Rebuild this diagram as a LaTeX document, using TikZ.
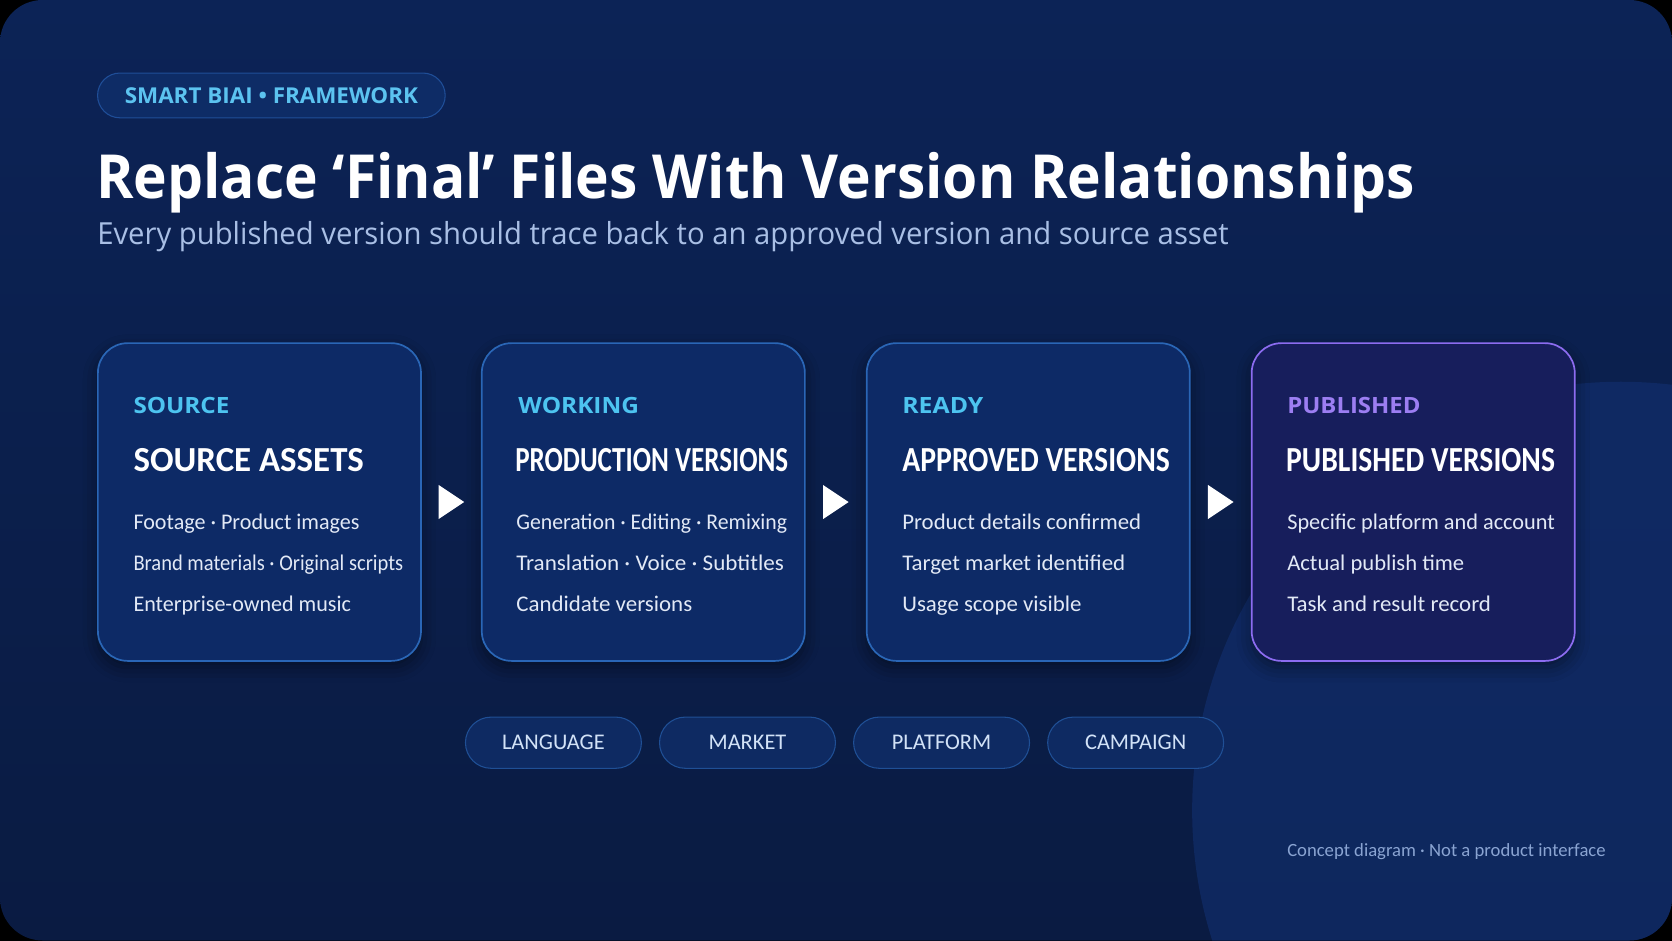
\documentclass[tikz,border=0pt]{standalone}
\usepackage{graphicx}
\usepackage{fontspec}
\setmainfont{Carlito}
\newfontfamily\osans{Open Sans}
\usetikzlibrary{calc,shadows.blur}
\newcommand{\fitto}[2]{\resizebox{#1}{\height}{#2}}
\definecolor{bgtop}{HTML}{0A1B42}
\definecolor{bgbot}{HTML}{0C2356}
\definecolor{circfill}{HTML}{133275}
\definecolor{pillfill}{HTML}{0E2C66}
\definecolor{pillline}{HTML}{1F4E98}
\definecolor{pilltext}{HTML}{5CC3F0}
\definecolor{subtext}{HTML}{A9BFE5}
\definecolor{cardfill}{HTML}{0D2A66}
\definecolor{cardline}{HTML}{2A66B6}
\definecolor{pubfill}{HTML}{171E5C}
\definecolor{publine}{HTML}{8C6CF0}
\definecolor{cattext}{HTML}{4DC4F0}
\definecolor{pubcat}{HTML}{9C7EF2}
\definecolor{bodytext}{HTML}{E2E9F6}
\definecolor{tagfill}{HTML}{0E2A62}
\definecolor{tagline}{HTML}{1F4F95}
\definecolor{tagtext}{HTML}{D2E2F7}
\definecolor{foottext}{HTML}{8AA4D2}
\tikzset{
  card/.style={draw=cardline, line width=1.6pt, fill=cardfill, rounded corners=28pt,
    minimum width=303pt, minimum height=298pt, anchor=north west, inner sep=0pt,
    blur shadow={shadow xshift=0pt, shadow yshift=-6pt, shadow blur radius=14pt, shadow opacity=45}},
  pubcard/.style={card, draw=publine, fill=pubfill},
  cat/.style={anchor=base west, inner sep=0pt, text=cattext, font=\osans\fontsize{21}{25}\selectfont\bfseries},
  head/.style={anchor=base west, inner sep=0pt, text=white, font=\fontsize{33}{38}\selectfont\bfseries},
  body/.style={anchor=base west, inner sep=0pt, text=bodytext, font=\fontsize{21}{26}\selectfont},
  tagbox/.style={draw=tagline, line width=1pt, fill=tagfill, rounded corners=24pt,
    minimum width=165pt, minimum height=48pt, anchor=north west, inner sep=0pt,
    text=tagtext, font=\fontsize{21}{24}\selectfont},
  tri/.style={fill=white}
}
\begin{document}
\begin{tikzpicture}[x=1pt,y=-1pt]
\useasboundingbox (0,0) rectangle (1568,882);
\fill[black] (0,0) rectangle (1568,882);
\begin{scope}
\clip[rounded corners=40pt] (0,0) rectangle (1568,882);
\shade[top color=bgbot, bottom color=bgtop] (0,0) rectangle (1568,882);
\fill[circfill, opacity=0.55] (1520,760) circle (402);
\end{scope}

% header pill
\node[draw=pillline, line width=1pt, fill=pillfill, rounded corners=21pt, minimum width=326pt,
  minimum height=42pt, anchor=north west, inner sep=0pt, text=pilltext,
  font=\osans\fontsize{20.5}{23}\selectfont\bfseries] (tag) at (91,68) {\fitto{275pt}{SMART BIAI • FRAMEWORK}};

% title
\node[anchor=base west, inner sep=0pt, text=white, font=\osans\fontsize{57}{66}\selectfont\bfseries]
  (title) at (90,186) {\fitto{1237pt}{Replace ‘Final’ Files With Version Relationships}};
\node[anchor=base west, inner sep=0pt, text=subtext, font=\osans\fontsize{28.5}{34}\selectfont]
  (subtitle) at (91,229) {\fitto{1061pt}{Every published version should trace back to an approved version and source asset}};

% cards
\node[card] (b1) at (91,321) {};
\node[card] (b2) at (451,321) {};
\node[card] (b3) at (812,321) {};
\node[pubcard] (b4) at (1173,321) {};

\node[cat] (c1) at (125,388) {\fitto{90pt}{SOURCE}};
\node[head] (h1) at (125,442) {\fitto{216pt}{SOURCE ASSETS}};
\node[body] (t1a) at (125,497) {\fitto{212pt}{Footage · Product images}};
\node[body] (t1b) at (125,535) {\fitto{253pt}{Brand materials · Original scripts}};
\node[body] (t1c) at (125,573) {\fitto{204pt}{Enterprise-owned music}};

\node[cat] (c2) at (486,388) {\fitto{113pt}{WORKING}};
\node[head] (h2) at (483,442) {\fitto{256pt}{PRODUCTION VERSIONS}};
\node[body] (t2a) at (484,497) {\fitto{254pt}{Generation · Editing · Remixing}};
\node[body] (t2b) at (484,535) {\fitto{251pt}{Translation · Voice · Subtitles}};
\node[body] (t2c) at (484,573) {\fitto{165pt}{Candidate versions}};

\node[cat] (c3) at (846,388) {\fitto{76pt}{READY}};
\node[head] (h3) at (846,442) {\fitto{251pt}{APPROVED VERSIONS}};
\node[body] (t3a) at (846,497) {\fitto{224pt}{Product details confirmed}};
\node[body] (t3b) at (846,535) {\fitto{209pt}{Target market identified}};
\node[body] (t3c) at (846,573) {\fitto{168pt}{Usage scope visible}};

\node[cat, text=pubcat] (c4) at (1207,388) {\fitto{125pt}{PUBLISHED}};
\node[head] (h4) at (1206,442) {\fitto{252pt}{PUBLISHED VERSIONS}};
\node[body] (t4a) at (1207,497) {\fitto{251pt}{Specific platform and account}};
\node[body] (t4b) at (1207,535) {\fitto{166pt}{Actual publish time}};
\node[body] (t4c) at (1207,573) {\fitto{191pt}{Task and result record}};

% arrows
\foreach \a/\b in {b1/b2, b2/b3, b3/b4}{
  \coordinate (m) at ($(\a.east)!0.5!(\b.west)$);
  \fill[tri] ($(m)+(-12,-16)$) -- ($(m)+(12,0)$) -- ($(m)+(-12,16)$) -- cycle;
}

% tags
\node[tagbox] (g1) at (436,672) {LANGUAGE};
\node[tagbox] (g2) at (618,672) {MARKET};
\node[tagbox] (g3) at (800,672) {PLATFORM};
\node[tagbox] (g4) at (982,672) {CAMPAIGN};

% footer
\node[anchor=base east, inner sep=0pt, text=foottext, font=\fontsize{17.5}{21}\selectfont]
  (foot) at (1506,803) {Concept diagram · Not a product interface};
\end{tikzpicture}
\end{document}
